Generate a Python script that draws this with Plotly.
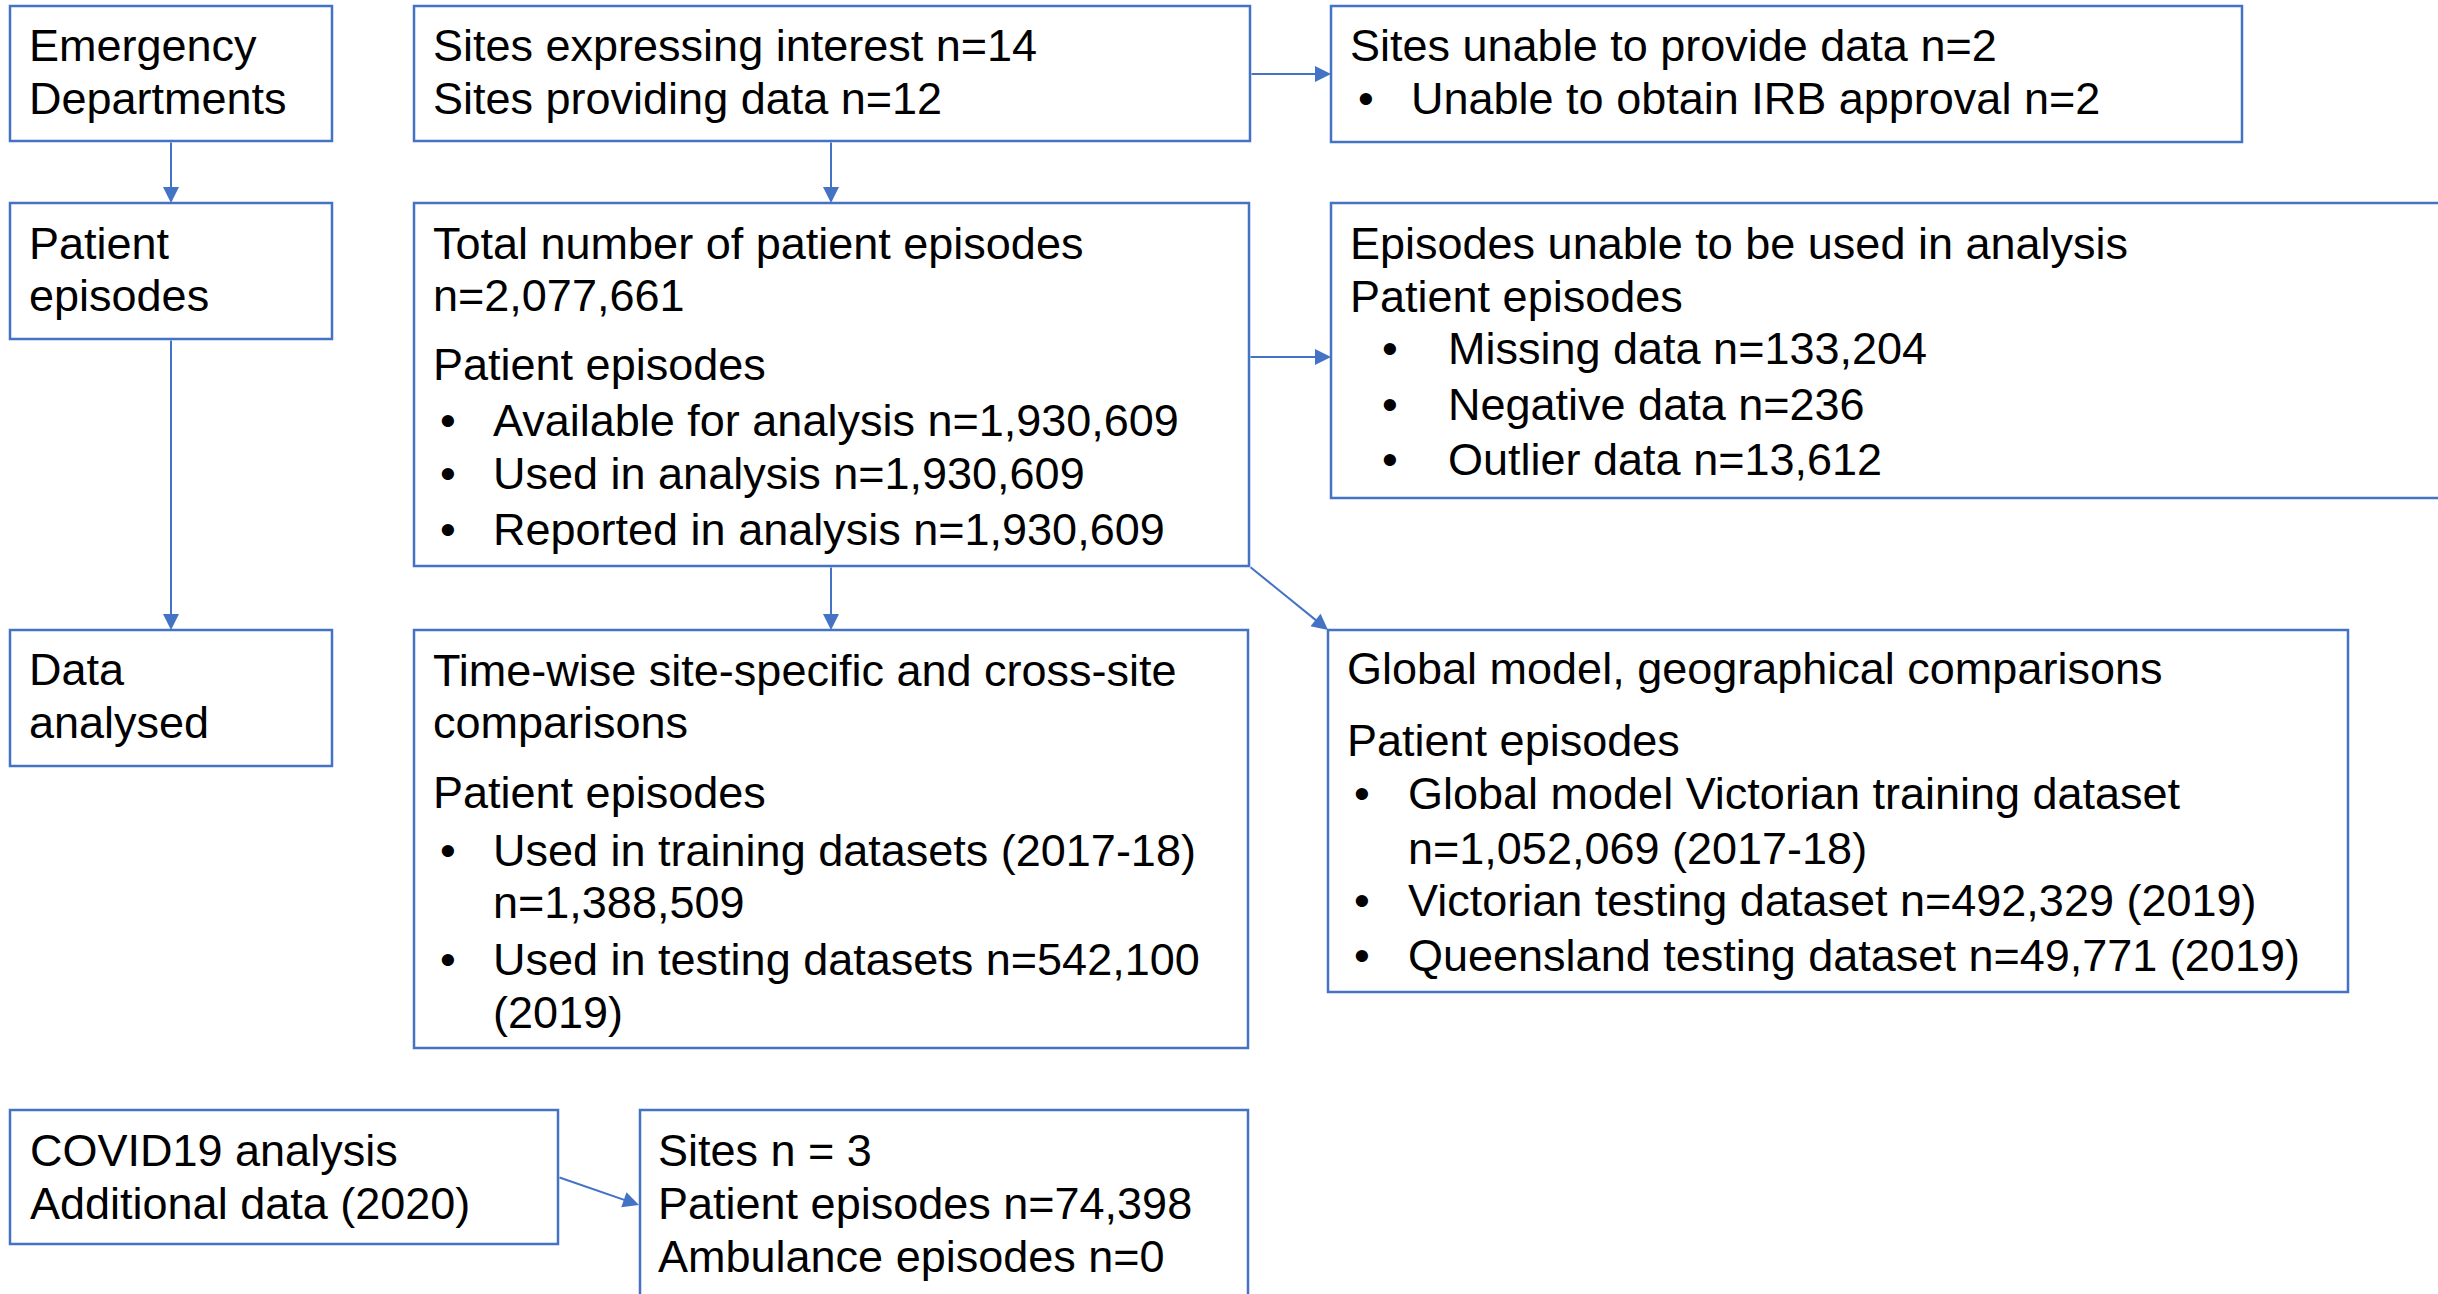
import plotly.graph_objects as go

# ---- text content (data) ----
ed_lines = ["Emergency", "Departments"]
sites_lines = ["Sites expressing interest n=14", "Sites providing data n=12"]
unable_title = ["Sites unable to provide data n=2"]
unable_bullets = ["Unable to obtain IRB approval n=2"]
pe_lines = ["Patient", "episodes"]
total_title = ["Total number of patient episodes", "n=2,077,661", "Patient episodes"]
total_bullets = ["Available for analysis n=1,930,609", "Used in analysis n=1,930,609",
                 "Reported in analysis n=1,930,609"]
excl_title = ["Episodes unable to be used in analysis", "Patient episodes"]
excl_bullets = ["Missing data n=133,204", "Negative data n=236", "Outlier data n=13,612"]
da_lines = ["Data", "analysed"]
tw_title = ["Time-wise site-specific and cross-site", "comparisons", "Patient episodes"]
tw_bullets = ["Used in training datasets (2017-18)", "n=1,388,509",
              "Used in testing datasets n=542,100", "(2019)"]
tw_bullet_marks = [True, False, True, False]
gl_title = ["Global model, geographical comparisons", "Patient episodes"]
gl_bullets = ["Global model Victorian training dataset", "n=1,052,069 (2017-18)",
              "Victorian testing dataset n=492,329 (2019)", "Queensland testing dataset n=49,771 (2019)"]
gl_bullet_marks = [True, False, True, True]
cov_lines = ["COVID19 analysis", "Additional data (2020)"]
covs_lines = ["Sites n = 3", "Patient episodes n=74,398", "Ambulance episodes n=0"]

# ---- layout (positions in pixels) ----
W, H = 2438, 1294
BLUE = "#4472C4"
FS = 45
FONT = "Arial"
boxes = [
    (10, 6, 332, 141), (414, 6, 1250, 141), (1331, 6, 2242, 142),
    (10, 203, 332, 339), (414, 203, 1249, 566), (1331, 203, 2470, 498),
    (10, 630, 332, 766), (414, 630, 1248, 1048), (1328, 630, 2348, 992),
    (10, 1110, 558, 1244), (640, 1110, 1248, 1320),
]
arrows = [
    ((171, 141), (171, 203)), ((171, 339), (171, 630)),
    ((831, 141), (831, 203)), ((1250, 74), (1331, 74)),
    ((1249, 357), (1331, 357)), ((831, 566), (831, 630)),
    ((1249, 566), (1328, 630)), ((558, 1177), (639, 1205)),
]

fig = go.Figure()
shapes = []
for (x0, y0, x1, y1) in boxes:
    shapes.append(dict(type="rect", x0=x0, y0=y0, x1=x1, y1=y1, xref="x", yref="y",
                       line=dict(color=BLUE, width=2.5), fillcolor="rgba(0,0,0,0)"))

annots = []
def txt(x, y, s):
    annots.append(dict(x=x, y=y, xref="x", yref="y", text=s, showarrow=False,
                       xanchor="left", yanchor="middle",
                       font=dict(family=FONT, size=FS, color="black")))

def block(lines, x, ys):
    for s, y in zip(lines, ys):
        txt(x, y, s)

def bullets(lines, marks, xb, xt, ys):
    for s, m, y in zip(lines, marks, ys):
        if m:
            txt(xb, y, "•")
        txt(xt, y, s)

block(ed_lines, 27, [45, 98])
block(sites_lines, 431, [45, 98])
block(unable_title, 1348, [45])
bullets(unable_bullets, [True], 1356, 1409, [98])
block(pe_lines, 27, [243, 295])
block(total_title, 431, [243, 295, 364])
bullets(total_bullets, [True] * 3, 438, 491, [420, 473, 529])
block(excl_title, 1348, [243, 296])
bullets(excl_bullets, [True] * 3, 1380, 1446, [348, 404, 459])
block(da_lines, 27, [669, 722])
block(tw_title, 431, [670, 722, 792])
bullets(tw_bullets, tw_bullet_marks, 438, 491, [850, 902, 959, 1012])
block(gl_title, 1345, [668, 740])
bullets(gl_bullets, gl_bullet_marks, 1352, 1406, [793, 848, 900, 955])
block(cov_lines, 28, [1150, 1203])
block(covs_lines, 656, [1150, 1203, 1256])

for (x0, y0), (x1, y1) in arrows:
    annots.append(dict(x=x1, y=y1, ax=x0, ay=y0, xref="x", yref="y", axref="x", ayref="y",
                       text="", showarrow=True, arrowhead=2, arrowsize=1.6, arrowwidth=2,
                       arrowcolor=BLUE, standoff=0, startstandoff=0))

fig.update_layout(
    width=W, height=H, margin=dict(l=0, r=0, t=0, b=0),
    plot_bgcolor="white", paper_bgcolor="white",
    shapes=shapes, annotations=annots, showlegend=False,
    xaxis=dict(range=[0, W], visible=False, fixedrange=True),
    yaxis=dict(range=[H, 0], visible=False, fixedrange=True),
)

fig.write_html("out.html", config={"displayModeBar": False},
               post_script="document.body.style.margin='0';document.body.style.overflow='hidden';")
